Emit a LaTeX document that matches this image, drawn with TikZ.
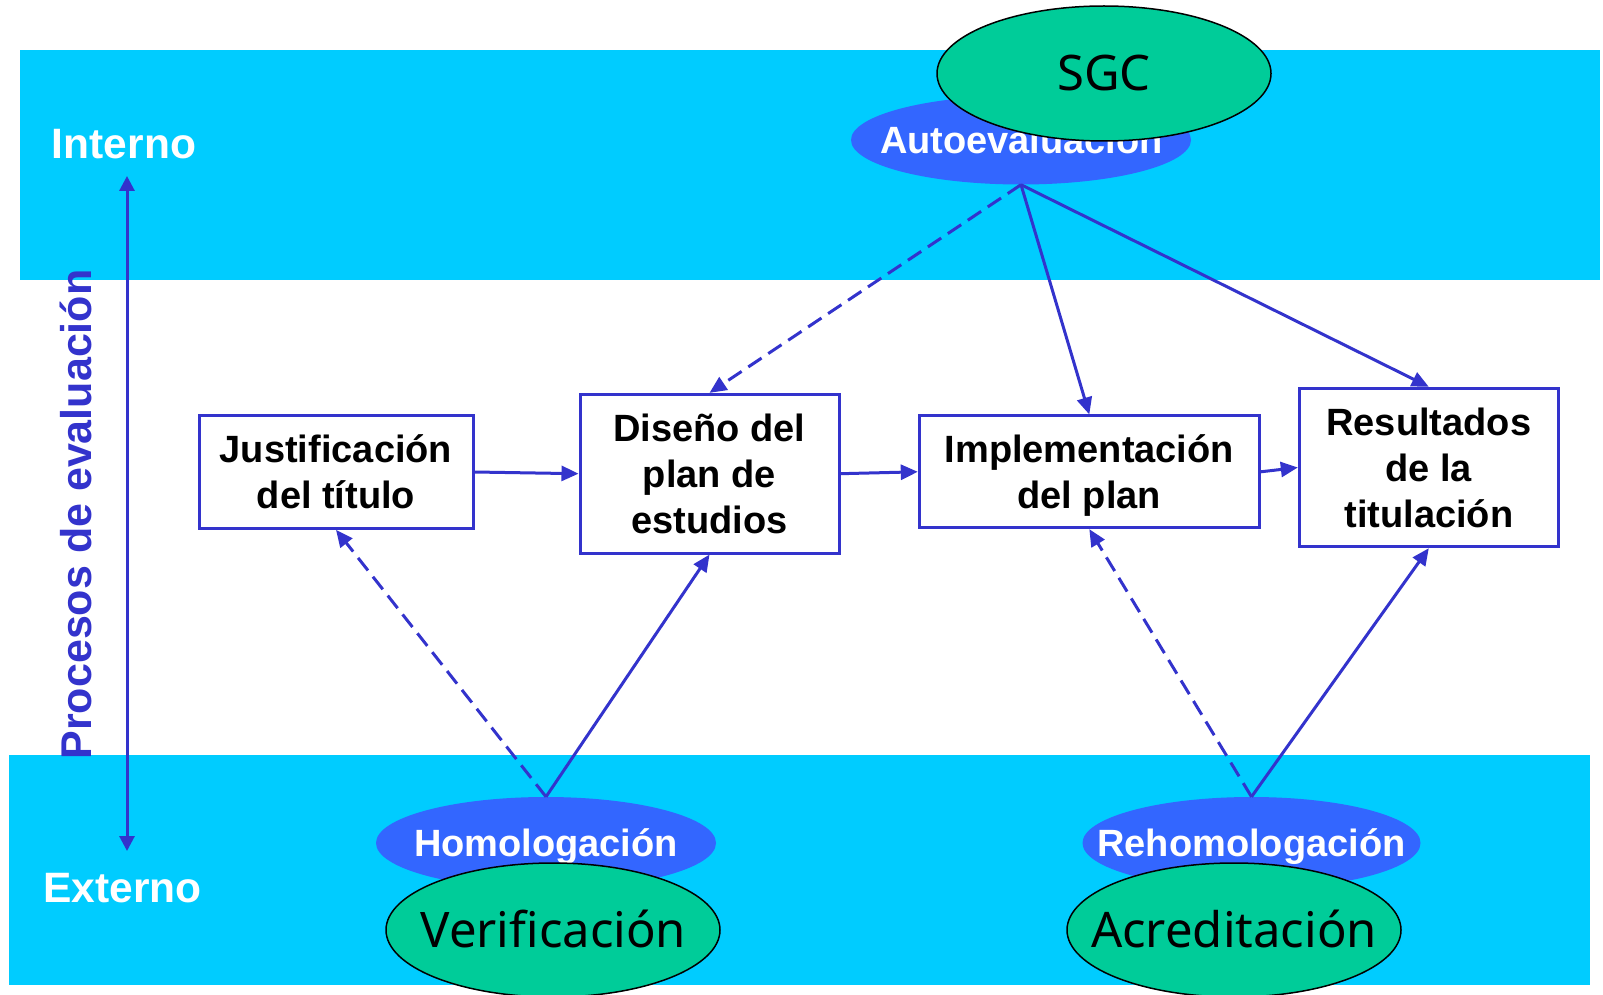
\documentclass[tikz,border=0pt]{standalone}
\usepackage{fontspec}
\setmainfont{Liberation Sans}
\newfontfamily\comicfont{Noto Sans}
\usetikzlibrary{shapes.geometric,arrows.meta}
\definecolor{bandc}{HTML}{00CCFF}
\definecolor{blueellc}{HTML}{3366FF}
\definecolor{greenellc}{HTML}{00CC99}
\definecolor{linec}{HTML}{3333CC}
\newcommand{\firstln}[1]{\raisebox{0pt}[27.2pt][0pt]{#1}}
\newcommand{\lastln}[1]{\raisebox{0pt}[\height][0pt]{#1}}
\begin{document}
\begin{tikzpicture}[x=1pt,y=-1pt,
  procbox/.style={draw=linec, line width=3pt, fill=white, rectangle, inner sep=0pt,
    align=center, font=\bfseries\fontsize{38}{46}\selectfont},
  blueell/.style={ellipse, fill=blueellc, draw=none, inner sep=0pt},
  greenell/.style={ellipse, fill=greenellc, draw=black, line width=1.5pt, inner sep=0pt},
  bluetxt/.style={inner sep=0pt, text=white, font=\bfseries\fontsize{38}{46}\selectfont,
    text height=27.2pt, text depth=0pt},
  greentxt/.style={inner sep=0pt, text=black, font=\comicfont\fontsize{49}{58}\selectfont,
    text height=35pt, text depth=0pt},
  sidetxt/.style={inner sep=0pt, anchor=base, text=white, font=\bfseries\fontsize{42.5}{50}\selectfont},
  conn/.style={draw=linec, line width=3pt, -{Triangle[length=17pt,width=15pt]}},
  dashconn/.style={conn, dash pattern=on 16pt off 8pt},
]
\useasboundingbox (0,0) rectangle (1603,995);
% bands
\fill[bandc] (20,50) rectangle (1600,280);
\fill[bandc] (9,755) rectangle (1590,985);

% top ellipses
\node[blueell, minimum width=340pt, minimum height=89pt] (auto) at (1021,140) {};
\node[bluetxt] (autot) at (1021.5,140) {Autoevaluación};
\node[greenell, minimum width=334pt, minimum height=135pt] (sgc) at (1104,73.5) {};
\node[greentxt] (sgct) at (1104,73.5) {SGC};

% bottom ellipses
\node[blueell, minimum width=340pt, minimum height=92pt] (homo) at (546,843) {};
\node[bluetxt] (homot) at (546,843) {Homologación};
\node[greenell, minimum width=334pt, minimum height=134pt] (verif) at (553,930) {};
\node[greentxt] (veritxt) at (553.4,930) {Verificación};

\node[blueell, minimum width=338pt, minimum height=92pt] (reho) at (1251.5,843) {};
\node[bluetxt] (rehot) at (1251.5,843) {Rehomologación};
\node[greenell, minimum width=334pt, minimum height=134pt] (acred) at (1234,930) {};
\node[greentxt] (acredt) at (1234,930) {Acreditación};

% side labels
\node[sidetxt] (interno) at (124,159) {Interno};
\node[sidetxt] (externo) at (122.5,902) {Externo};
\node[inner sep=0pt, anchor=base, rotate=90, text=linec,
  font=\bfseries\fontsize{43}{50}\selectfont] (procesos) at (91,514.5) {Procesos de evaluación};
\coordinate (vtop) at (127,176);
\coordinate (vbot) at (127,851);
\draw[linec, line width=3pt,
  {Triangle[length=15pt,width=15pt]}-{Triangle[length=15pt,width=15pt]}] (vtop) -- (vbot);

% boxes
\node[procbox, minimum width=274pt, minimum height=112.6pt] (J) at (336,472)
  {\firstln{Justificación}\\\lastln{del título}};
\node[procbox, minimum width=259pt, minimum height=158.7pt] (D) at (709.5,473.7)
  {\firstln{Diseño del}\\plan de\\\lastln{estudios}};
\node[procbox, minimum width=340pt, minimum height=111.7pt] (I) at (1089.3,471.8)
  {\firstln{Implementación}\\\lastln{del plan}};
\node[procbox, minimum width=259pt, minimum height=158.4pt] (R) at (1428.8,467.5)
  {\firstln{Resultados}\\de la\\\lastln{titulación}};

% connectors
\draw[conn] (J.east) -- (D.west);
\draw[conn] (D.east) -- (I.west);
\draw[conn] (I.east) -- (R.west);
\draw[dashconn] (auto.south) -- (D.north);
\draw[conn] (auto.south) -- (I.north);
\draw[conn] (auto.south) -- (R.north);
\draw[dashconn] (homo.north) -- (J.south);
\draw[conn] (homo.north) -- (D.south);
\draw[dashconn] (reho.north) -- (I.south);
\draw[conn] (reho.north) -- (R.south);
\end{tikzpicture}
\end{document}
